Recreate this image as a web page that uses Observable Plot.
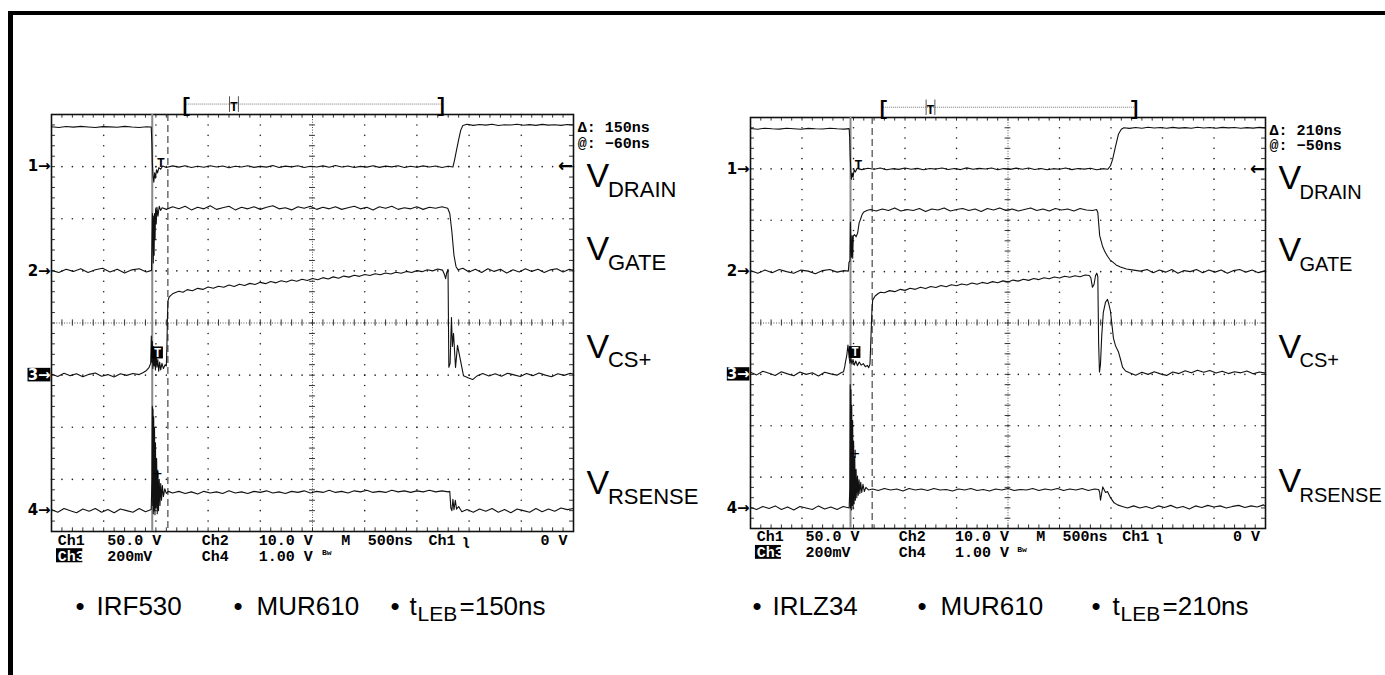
<!DOCTYPE html>
<html><head><meta charset="utf-8">
<script src="https://cdn.jsdelivr.net/npm/d3@7"></script>
<script src="https://cdn.jsdelivr.net/npm/@observablehq/plot@0.6"></script>
<style>
html,body{margin:0;padding:0;background:#fff;}
#page{position:relative;width:1385px;height:675px;overflow:hidden;background:#fff;}
#border{position:absolute;left:8px;top:11px;right:0;bottom:0;border-top:4px solid #000;border-left:5px solid #000;}
.panel{position:absolute;top:0;}
</style></head><body><div id="page"><div id="border"></div></div>
<script>
// ---------- chart values ----------
const channels = ["Ch1", "Ch2", "Ch3", "Ch4"];
const signalNames = ["DRAIN", "GATE", "CS+", "RSENSE"];
const scalePerDiv = [50, 10, 200, 1];      // V/div, V/div, mV/div, V/div
const markerDiv = [3, 1, -1, -3.6];        // channel ground markers (divisions)
const timePerDiv = 500;                    // ns/div
const devices = ["IRF530", "IRLZ34"];
const diodes = ["MUR610", "MUR610"];
const tLEB = [150, 210];                   // cursor delta (ns)
const cursorStart = [965, 971];            // ns from left of screen
const cursorAt = [-60, -50];
const readoutRow1 = ["Ch1", "50.0 V", "Ch2", "10.0 V", "M", "500ns", "Ch1", "ʅ", "0 V"];
const readoutRow2 = ["Ch3", "200mV", "Ch4", "1.00 V", "Bw"];

// Panel 1 (IRF530): [time ns, value]
const p1Drain = [[0,38.2],[70,37.6],[140,38.5],[210,37.9],[280,38.6],[350,38.0],[420,37.5],[490,38.4],[560,38.1],[630,37.7],[700,38.6],[770,38.0],[840,37.6],[910,38.3],[955,38.0],
[962,22],[966,4],[972,-8],[980,-15],[988,-6],[996,-11],[1006,-3],[1016,-6],[1028,-1],[1045,-2.5],[1065,0.6],
[1100,-0.8],[1160,0.7],[1220,-0.5],[1280,0.9],[1340,-0.9],[1400,0.3],[1460,-0.6],[1520,0.8],[1580,-0.3],[1640,0.6],[1700,-1.0],[1760,0.4],[1820,-0.4],[1880,0.9],[1940,-0.7],[2000,0.2],[2060,-0.5],[2120,1.0],[2180,-0.8],[2240,0.5],[2300,-0.2],[2360,0.8],[2420,-0.9],[2480,0.4],[2540,-0.4],[2600,0.7],[2660,-0.6],[2720,1.1],[2780,-0.3],[2840,0.6],[2900,-0.8],[2960,0.2],[3020,-0.5],[3080,0.9],[3140,-0.7],[3200,0.5],[3260,-0.2],[3320,0.8],[3380,-0.9],[3440,0.3],[3500,-0.6],[3560,0.7],[3620,-0.4],[3680,0.6],[3740,-0.8],[3800,0.3],[3845,-0.4],
[3860,6],[3880,16],[3900,26],[3920,35],[3940,39.5],[3980,40.6],[4040,39.6],[4100,40.4],[4160,39.8],[4220,40.7],[4280,39.5],[4340,40.2],[4400,39.9],[4460,40.6],[4520,39.7],[4580,40.3],[4640,39.6],[4700,40.5],[4760,39.8],[4820,40.2],[4880,39.6],[4940,40.4],[5000,39.9]];
const p1Gate = [[0,0.1],[70,-0.3],[140,0.3],[210,-0.1],[280,0.4],[350,-0.3],[420,0.2],[490,0.5],[560,-0.2],[630,0.3],[700,-0.4],[770,0.2],[840,0.4],[910,-0.2],[958,0.1],
[963,6],[967,11],[971,8],[975,1.5],[979,10.5],[983,3],[987,11],[992,6],[997,11.8],[1003,9],[1010,12.2],[1020,10.5],[1032,12.4],[1045,11.6],[1060,12.1],
[1100,11.8],[1160,12.3],[1220,11.9],[1280,12.4],[1340,11.7],[1400,12.2],[1460,11.9],[1520,12.5],[1580,11.8],[1640,12.1],[1700,12.4],[1760,11.7],[1820,12.2],[1880,11.9],[1940,12.3],[2000,11.8],[2060,12.2],[2120,12.5],[2180,11.9],[2240,12.1],[2300,11.7],[2360,12.3],[2420,12.0],[2480,12.4],[2540,11.8],[2600,12.2],[2660,11.9],[2720,12.3],[2780,11.8],[2840,12.1],[2900,12.4],[2960,11.9],[3020,12.2],[3080,11.7],[3140,12.3],[3200,12.0],[3260,12.4],[3320,11.8],[3380,12.1],[3440,11.9],[3500,12.3],[3560,11.8],[3620,12.2],[3680,12.0],[3740,12.3],[3795,12.0],
[3815,11.0],[3835,7.5],[3855,3],[3875,0.8],[3895,0.2],[3940,0.5],[4000,-0.2],[4060,0.3],[4120,-0.3],[4180,0.4],[4240,-0.1],[4300,0.3],[4360,-0.4],[4420,0.2],[4480,-0.2],[4540,0.4],[4600,-0.1],[4660,0.3],[4720,-0.3],[4780,0.2],[4840,0.4],[4900,-0.2],[4960,0.3],[5000,0.1]];
const p1Cs = [[0,4],[60,-5],[120,7],[180,-2],[240,5],[300,-6],[360,3],[420,8],[480,-4],[540,2],[600,-7],[660,5],[720,-1],[780,6],[840,2],[880,10],[910,18],[935,30],[950,45],[956,150],[961,50],[966,130],[971,25],[977,110],[983,35],[989,95],[995,20],[1002,80],[1010,30],[1018,60],[1027,15],[1036,50],[1046,20],[1058,45],[1072,25],[1088,40],[1100,35],[1106,120],[1111,230],[1116,285],[1125,298],[1140,305],[1160,312],[1188,317],[1220,322],[1260,318],[1300,328],[1350,324],[1400,333],[1450,329],[1500,338],[1550,333],[1600,341],[1650,337],[1700,346],[1750,340],[1800,349],[1850,344],[1900,352],[1950,348],[2000,356],[2050,351],[2100,359],[2150,354],[2200,362],[2250,357],[2300,365],[2350,360],[2400,368],[2450,363],[2500,371],[2550,366],[2600,374],[2650,369],[2700,377],[2750,372],[2800,380],[2850,376],[2900,383],[2950,379],[3000,386],[3050,382],[3100,389],[3150,385],[3200,392],[3250,388],[3300,395],[3350,391],[3400,398],[3450,394],[3500,401],[3550,397],[3600,404],[3650,400],[3700,407],[3745,403],[3765,385],[3775,370],[3785,392],[3798,406],
[3806,30],[3818,45],[3831,221],[3840,110],[3851,160],[3870,29],[3889,114],[3918,56],[3946,-2],[3990,-10],[4033,-17],[4080,-2],[4130,6],[4190,-3],[4250,5],[4310,-4],[4370,7],[4430,1],[4490,-5],[4550,6],[4610,-2],[4670,8],[4730,0],[4790,-6],[4850,5],[4910,-1],[4970,7],[5000,3]];
const p1Rsense = [[0,0.02],[60,-0.03],[120,0.04],[180,0],[240,-0.04],[300,0.03],[360,-0.01],[420,0.04],[480,-0.03],[540,0.02],[600,-0.04],[660,0.03],[720,0],[780,-0.03],[840,0.04],[900,-0.02],[955,0.02],
[962,0.6],[966,2.0],[969,0.1],[972,1.95],[975,-0.06],[979,1.8],[983,0.0],[987,1.6],[991,-0.08],[996,1.3],[1001,0.05],[1007,1.0],[1013,-0.06],[1019,0.75],[1025,0.0],[1032,0.6],[1039,0.1],[1046,0.52],[1054,0.2],[1062,0.48],[1072,0.27],[1085,0.42],[1100,0.33],[1120,0.37],
[1160,0.34],[1220,0.37],[1280,0.33],[1340,0.36],[1400,0.32],[1460,0.37],[1520,0.34],[1580,0.36],[1640,0.33],[1700,0.38],[1760,0.34],[1820,0.36],[1880,0.33],[1940,0.37],[2000,0.35],[2060,0.38],[2120,0.34],[2180,0.36],[2240,0.33],[2300,0.37],[2360,0.35],[2420,0.38],[2480,0.34],[2540,0.37],[2600,0.35],[2660,0.39],[2720,0.35],[2780,0.37],[2840,0.34],[2900,0.38],[2960,0.36],[3020,0.39],[3080,0.35],[3140,0.37],[3200,0.35],[3260,0.39],[3320,0.36],[3380,0.38],[3440,0.35],[3500,0.38],[3560,0.36],[3620,0.39],[3680,0.36],[3740,0.38],[3800,0.36],[3815,0.37],
[3825,0.05],[3835,0.0],[3845,0.22],[3855,0.02],[3868,0.2],[3880,0.03],[3900,0.08],[3930,-0.02],[3980,0.02],[4040,-0.03],[4100,0.03],[4160,-0.01],[4220,0.04],[4280,-0.03],[4340,0.02],[4400,-0.04],[4460,0.03],[4520,0],[4580,-0.03],[4640,0.04],[4700,-0.02],[4760,0.03],[4820,-0.01],[4880,0.05],[4940,0.02],[5000,0.04]];

// Panel 2 (IRLZ34)
const p2Drain = [[0,39.3],[70,38.6],[140,39.6],[210,39.0],[280,38.7],[350,39.5],[420,39.1],[490,38.6],[560,39.4],[630,39.0],[700,38.8],[770,39.6],[840,39.0],[910,38.7],[958,39.2],
[963,30],[968,12],[974,-2],[980,-10],[988,-4],[996,-8],[1006,-1],[1018,-3],[1035,0.5],
[1080,-0.7],[1140,0.6],[1200,-0.4],[1260,0.8],[1320,-0.9],[1380,0.2],[1440,-0.5],[1500,0.9],[1560,-0.3],[1620,0.5],[1680,-0.8],[1740,0.4],[1800,-0.2],[1860,0.8],[1920,-0.6],[1980,0.3],[2040,-0.7],[2100,1.0],[2160,-0.4],[2220,0.5],[2280,-0.1],[2340,0.8],[2400,-0.8],[2460,0.3],[2520,-0.5],[2580,0.7],[2640,-0.3],[2700,0.9],[2760,-0.6],[2820,0.4],[2880,-0.9],[2940,0.2],[3000,-0.4],[3060,0.8],[3120,-0.7],[3180,0.4],[3240,-0.2],[3300,0.6],[3360,-0.8],[3420,0.2],[3470,-0.3],
[3495,3],[3515,9],[3544,22],[3573,34],[3600,38.5],[3625,40],[3680,39.4],[3740,40.3],[3800,39.6],[3860,40.5],[3920,39.8],[3980,40.2],[4040,39.5],[4100,40.4],[4160,39.7],[4220,40.1],[4280,39.5],[4340,40.5],[4400,39.8],[4460,40.2],[4520,39.6],[4580,40.4],[4640,39.9],[4700,40.3],[4760,39.6],[4820,40.1],[4880,39.7],[4940,40.4],[5000,39.9]];
const p2Gate = [[0,0.2],[70,-0.3],[140,0.3],[210,-0.2],[280,0.4],[350,0.0],[420,-0.3],[490,0.3],[560,0.1],[630,-0.4],[700,0.2],[770,0.4],[840,-0.1],[910,0.2],[950,0.1],[956,1.8],[966,2.1],[970,9.6],[974,6],[980,2.8],[986,7],[992,2.6],[998,6.9],[1010,7.2],[1025,6.8],[1040,7.5],[1055,9.5],[1068,10.2],[1085,11.2],[1100,11.6],[1130,11.9],[1165,12.1],
[1220,11.8],[1280,12.2],[1340,11.9],[1400,12.4],[1460,11.8],[1520,12.1],[1580,11.9],[1640,12.3],[1700,11.7],[1760,12.2],[1820,12.0],[1880,12.4],[1940,11.8],[2000,12.1],[2060,12.3],[2120,11.9],[2180,12.2],[2240,11.7],[2300,12.3],[2360,12.0],[2420,12.4],[2480,11.9],[2540,12.2],[2600,11.8],[2660,12.1],[2720,12.4],[2780,11.9],[2840,12.2],[2900,11.8],[2960,12.3],[3020,12.0],[3080,12.2],[3140,11.8],[3200,12.3],[3260,12.0],[3320,11.9],[3360,12.1],
[3372,11.5],[3390,7.0],[3417,5.0],[3440,3.9],[3466,3.0],[3490,2.3],[3515,1.9],[3550,1.3],[3592,0.9],[3650,0.5],[3720,0.3],[3786,0.1],[3850,0.4],[3910,-0.2],[3970,0.3],[4030,-0.1],[4090,0.4],[4150,-0.3],[4210,0.2],[4270,0.0],[4330,0.4],[4390,-0.2],[4450,0.3],[4510,-0.1],[4570,0.3],[4630,-0.3],[4690,0.2],[4750,0.4],[4810,-0.1],[4870,0.3],[4930,-0.2],[5000,0.2]];
const p2Cs = [[0,8],[60,-2],[120,12],[180,4],[240,-4],[300,10],[360,2],[420,-5],[480,9],[540,0],[600,6],[660,-6],[720,8],[780,2],[840,-3],[880,6],[903,10],[915,30],[922,48],[935,75],[946,114],[952,90],[960,60],[966,44],[975,62],[985,40],[995,58],[1008,36],[1022,52],[1038,34],[1055,48],[1075,36],[1095,42],[1115,30],[1135,35],[1148,26],[1160,40],[1170,150],[1178,240],[1186,289],[1210,305],[1240,315],[1262,320],[1300,318],[1350,326],[1400,322],[1456,331],[1500,327],[1550,335],[1600,331],[1650,339],[1700,334],[1750,342],[1800,338],[1850,346],[1900,341],[1950,349],[2000,345],[2050,352],[2100,348],[2150,356],[2200,351],[2250,358],[2300,354],[2350,361],[2400,357],[2450,364],[2500,360],[2550,367],[2600,363],[2650,370],[2700,366],[2750,373],[2800,369],[2850,376],[2900,372],[2950,379],[3000,375],[3050,382],[3100,378],[3150,384],[3200,380],[3250,387],[3290,385],[3305,375],[3320,339],[3335,350],[3350,385],[3362,394],[3372,380],[3380,120],[3388,9],[3398,40],[3410,150],[3425,240],[3447,281],[3466,292],[3480,272],[3495,245],[3510,190],[3524,140],[3545,110],[3573,87],[3595,55],[3612,28],[3641,13],[3680,6],[3740,-3],[3800,8],[3860,0],[3920,10],[3980,2],[4040,-4],[4100,9],[4160,3],[4220,14],[4280,6],[4340,16],[4400,8],[4460,15],[4520,5],[4580,12],[4640,3],[4700,10],[4760,6],[4820,13],[4880,2],[4940,9],[5000,5]];
const p2Rsense = [[0,0.01],[60,-0.03],[120,0.03],[180,-0.01],[240,0.04],[300,-0.03],[360,0.02],[420,-0.04],[480,0.03],[540,0],[600,-0.03],[660,0.04],[720,-0.02],[780,0.02],[840,-0.03],[900,0.03],[958,0],
[964,0.4],[968,2.4],[971,0.0],[975,2.3],[979,-0.04],[983,2.0],[987,0.05],[992,1.7],[996,-0.02],[1001,1.3],[1006,0.08],[1012,1.0],[1018,0.15],[1025,0.75],[1032,0.2],[1039,0.62],[1046,0.25],[1054,0.55],[1062,0.28],[1070,0.5],[1080,0.3],[1092,0.46],[1105,0.32],[1120,0.4],[1145,0.35],[1184,0.37],
[1240,0.34],[1300,0.38],[1360,0.35],[1420,0.37],[1480,0.33],[1540,0.38],[1600,0.35],[1660,0.37],[1720,0.34],[1780,0.38],[1840,0.35],[1900,0.36],[1960,0.33],[2020,0.37],[2080,0.35],[2140,0.38],[2200,0.34],[2260,0.36],[2320,0.33],[2380,0.37],[2440,0.35],[2500,0.38],[2560,0.34],[2620,0.36],[2680,0.35],[2740,0.38],[2800,0.34],[2860,0.37],[2920,0.35],[2980,0.38],[3040,0.34],[3100,0.37],[3160,0.35],[3220,0.38],[3280,0.34],[3340,0.37],[3380,0.36],
[3390,0.3],[3398,0.15],[3420,0.41],[3447,0.3],[3466,0.32],[3495,0.2],[3530,0.1],[3563,0.06],[3610,0.03],[3660,0.0],[3720,0.04],[3780,0.0],[3840,0.03],[3900,-0.01],[3960,0.04],[4020,0.01],[4080,0.05],[4140,0.0],[4200,0.03],[4260,-0.02],[4320,0.04],[4380,0.01],[4440,0.05],[4500,0.02],[4560,0.04],[4620,0.0],[4680,0.03],[4740,0.05],[4800,0.01],[4860,0.04],[4920,0.02],[4980,0.06],[5000,0.03]];

const tracesByPanel = [[p1Drain, p1Gate, p1Cs, p1Rsense], [p2Drain, p2Gate, p2Cs, p2Rsense]];

// ---------- layout (not data) ----------
const layout = [
  {left: 0, width: 700, ML: 51, MR: 127, MT: 114, MB: 144, subSize: 22,
   bulletX: [230, 431, 1743, 1964, 3247, 3429], bulletY: -5.60, plusY: -2.89},
  {left: 700, width: 685, ML: 50, MR: 120, MT: 117, MB: 147, subSize: 20,
   bulletX: [19, 214, 1621, 1845, 3311, 3515], bulletY: -5.68, plusY: -2.54}
];
const sans = "Liberation Sans, Arial, Helvetica, sans-serif";
const mono = "Liberation Mono, DejaVu Sans Mono, monospace";
const vBase = [2.60, 1.20, -0.68, -3.29];
const subBase = [2.41, 1.02, -0.85, -3.48];
const row1X = [60, 535, 1440, 1985, 2775, 3030, 3610, 3930, 4684];
const row2X = [60, 535, 1440, 1985, 2590];

function txt(text, x, y, o = {}) {
  return Plot.text([{x, y, text}], {x: "x", y: "y", text: "text", textAnchor: "start", lineAnchor: "bottom", ...o});
}

function panelPlot(i) {
  const L = layout[i];
  const rows = tracesByPanel[i].flatMap((tr, c) =>
    tr.map(([t, v]) => ({c, t, y: markerDiv[c] + v / scalePerDiv[c]})));
  const majX = d3.range(1, 10).filter(d => d !== 5).map(d => d * timePerDiv);
  const majY = [-3, -2, -1, 1, 2, 3];
  const minX = d3.range(0, 51).map(d => d * timePerDiv / 5);
  const minY = d3.range(-20, 21).map(d => d / 5);
  const gridDots = d3.cross(majX, minY).concat(d3.cross(minX, majY));
  const c1 = cursorStart[i], c2 = cursorStart[i] + tLEB[i];
  const at = cursorAt[i];
  const marks = [
    Plot.dot(gridDots, {x: d => d[0], y: d => d[1], r: 0.8, fill: "#222", stroke: null}),
    Plot.ruleX([5 * timePerDiv], {stroke: "#555", strokeDasharray: "1,1.6"}),
    Plot.ruleY([0], {stroke: "#555", strokeDasharray: "1,1.6"}),
    Plot.ruleX(minX, {y1: -0.06, y2: 0.06, stroke: "#333"}),
    Plot.ruleY(minY, {x1: 2500 - 28, x2: 2500 + 28, stroke: "#333"}),
    Plot.ruleX(minX, {y1: 4, y2: 3.93, stroke: "#333"}),
    Plot.ruleX(minX, {y1: -4, y2: -3.93, stroke: "#333"}),
    Plot.ruleY(minY, {x1: 0, x2: 38, stroke: "#333"}),
    Plot.ruleY(minY, {x1: 4962, x2: 5000, stroke: "#333"}),
    Plot.frame({stroke: "#111", strokeWidth: 1.6}),
    // cursors
    Plot.ruleX([c1], {stroke: "#8a8a8a", strokeWidth: 2}),
    Plot.ruleX([c2], {stroke: "#222", strokeWidth: 1, strokeDasharray: "7,4"}),
    // traces
    Plot.line(rows, {x: "t", y: "y", z: "c", stroke: "#111", strokeWidth: 1.1}),
    // record bar at top
    Plot.ruleY([4.2], {x1: 1290, x2: 3730, stroke: "#777", strokeDasharray: "1,1"}),
    txt("[", 1230, 4.04, {fontFamily: mono, fontWeight: "bold", fontSize: 20}),
    txt("]", 3790, 4.04, {fontFamily: mono, fontWeight: "bold", fontSize: 20, textAnchor: "end"}),
    Plot.ruleX([1705, 1790], {y1: 4.04, y2: 4.34, stroke: "#555"}),
    txt("T", 1747, 4.06, {fontFamily: mono, fontWeight: "bold", fontSize: 13, textAnchor: "middle"}),
    // trigger / cursor markers on traces
    txt("T", 1010, markerDiv[0] + 0.07, {fontFamily: mono, fontWeight: "bold", fontSize: 13, lineAnchor: "middle"}),
    Plot.rect([0], {x1: 960, x2: 1072, y1: -0.46, y2: -0.69, fill: "#000"}),
    txt("T", 1016, -0.57, {fontFamily: mono, fontWeight: "bold", fontSize: 12, fill: "#fff", textAnchor: "middle", lineAnchor: "middle"}),
    txt("+", 1016, L.plusY, {fontFamily: mono, fontSize: 16, textAnchor: "middle", lineAnchor: "middle"}),
    // right-hand readouts
    txt(`Δ: ${tLEB[i]}ns`, 5040, 3.66, {fontFamily: mono, fontWeight: "bold", fontSize: 15}),
    txt(`@: ${at < 0 ? "−" : ""}${Math.abs(at)}ns`, 5040, 3.36, {fontFamily: mono, fontWeight: "bold", fontSize: 15}),
    txt("←", 4995, markerDiv[0], {fontFamily: "DejaVu Sans", fontWeight: "bold", fontSize: 18, textAnchor: "end", lineAnchor: "middle"}),
    // channel markers on the left
    Plot.rect([0], {x1: -225, x2: -6, y1: markerDiv[2] - 0.13, y2: markerDiv[2] + 0.13, fill: "#000"}),
    ...channels.map((ch, c) => txt(`${c + 1}→`, -8, markerDiv[c], {
      fontFamily: "DejaVu Sans", fontWeight: "bold", fontSize: 15, textAnchor: "end", lineAnchor: "middle",
      fill: c === 2 ? "#fff" : "#000"})),
    // signal labels
    ...signalNames.flatMap((s, c) => [
      txt("V", 5125, vBase[c], {fontFamily: sans, fontSize: 34}),
      txt(s, 5330, subBase[c], {fontFamily: sans, fontSize: L.subSize})
    ]),
    // scope readout
    Plot.rect([0], {x1: 48, x2: 300, y1: -4.33, y2: -4.6, fill: "#000"}),
    ...readoutRow1.map((s, k) => txt(s, row1X[k], -4.25, {fontFamily: mono, fontWeight: "bold", fontSize: 15})),
    ...readoutRow2.map((s, k) => txt(s, row2X[k], k === 4 ? -4.45 : -4.56, {
      fontFamily: mono, fontWeight: "bold", fontSize: k === 4 ? 8 : 15, fill: k === 0 ? "#fff" : "#000"})),
    // bullet captions
    txt("•", L.bulletX[0], L.bulletY, {fontFamily: sans, fontSize: 26}),
    txt(devices[i], L.bulletX[1], L.bulletY, {fontFamily: sans, fontSize: 26}),
    txt("•", L.bulletX[2], L.bulletY, {fontFamily: sans, fontSize: 26}),
    txt(diodes[i], L.bulletX[3], L.bulletY, {fontFamily: sans, fontSize: 26}),
    txt("•", L.bulletX[4], L.bulletY, {fontFamily: sans, fontSize: 26}),
    txt("t", L.bulletX[5], L.bulletY, {fontFamily: sans, fontSize: 26}),
    txt("LEB", L.bulletX[5], L.bulletY, {fontFamily: sans, fontSize: 21, dx: 8, dy: 6}),
    txt(`=${tLEB[i]}ns`, L.bulletX[5], L.bulletY, {fontFamily: sans, fontSize: 26, dx: 50})
  ];
  const svg = Plot.plot({
    width: L.width, height: 675,
    marginLeft: L.ML, marginRight: L.MR, marginTop: L.MT, marginBottom: L.MB,
    x: {domain: [0, 10 * timePerDiv], axis: null},
    y: {domain: [-4, 4], axis: null},
    style: {background: "transparent", overflow: "visible"},
    marks
  });
  svg.classList.add("panel");
  svg.style.left = L.left + "px";
  svg.style.position = "absolute";
  svg.style.top = "0px";
  return svg;
}

const page = document.getElementById("page");
page.appendChild(panelPlot(0));
page.appendChild(panelPlot(1));
</script></body></html>
